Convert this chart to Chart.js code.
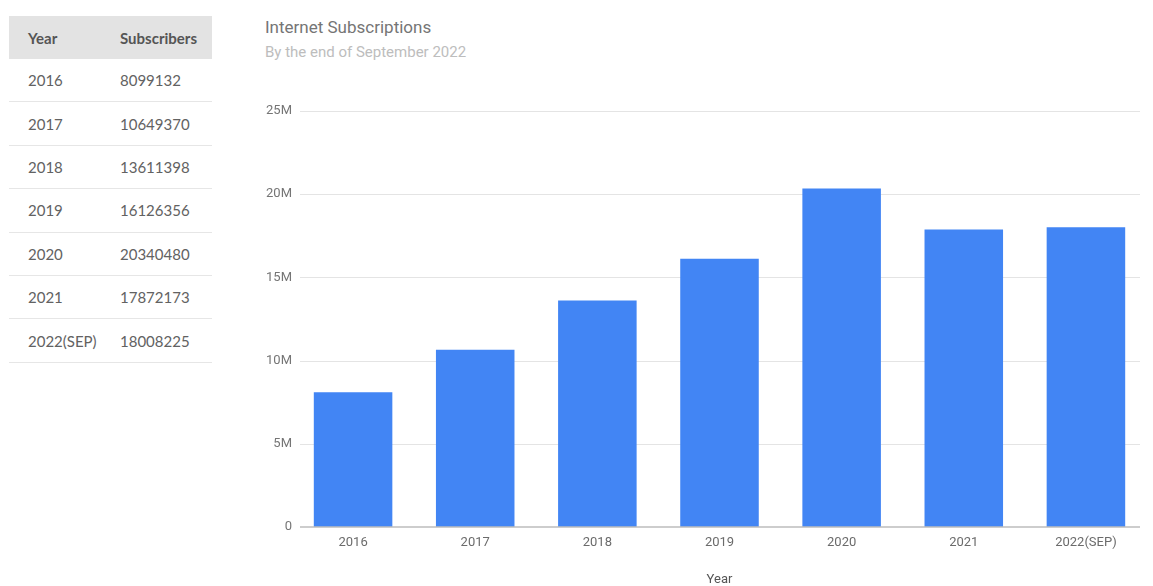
<!DOCTYPE html>
<html>
<head>
<meta charset="utf-8">
<script src="https://cdn.jsdelivr.net/npm/chart.js@4/dist/chart.umd.min.js"></script>
<style>
  body { margin: 0; background: #fff; width: 1153px; height: 586px; overflow: hidden; position: relative; }
  #tbl { position: absolute; left: 9px; top: 16px; width: 203px; border-collapse: collapse; font-family: Lato, "Open Sans", sans-serif; font-size: 15px; color: #626262; table-layout: fixed; }
  #tbl th { background: #e3e3e3; text-align: left; font-weight: bold; height: 43px; padding: 0 0 0 19px; color: #555; }
  #tbl td { height: 42.4px; padding: 0 0 0 19px; border-bottom: 1px solid #e6e6e6; }
  #tbl th:first-child { width: 73px; }
  .title { position: absolute; left: 265px; font-family: Roboto, sans-serif; white-space: nowrap; }
  #t1 { top: 17px; font-size: 17px; color: #757575; }
  #t2 { top: 43px; font-size: 15px; color: #bdbdbd; }
  #wrap { position: absolute; left: 230px; top: 0; width: 923px; height: 586px; }
</style>
</head>
<body>
<table id="tbl"><thead><tr><th>Year</th><th>Subscribers</th></tr></thead><tbody></tbody></table>
<div class="title" id="t1">Internet Subscriptions</div>
<div class="title" id="t2">By the end of September 2022</div>
<div id="wrap"><canvas id="myChart"></canvas></div>
<script>
var years = ['2016', '2017', '2018', '2019', '2020', '2021', '2022(SEP)'];
var subscribers = [8099132, 10649370, 13611398, 16126356, 20340480, 17872173, 18008225];
var yTickLabels = ['0', '5M', '10M', '15M', '20M', '25M'];

// table on the left
var tbody = document.querySelector('#tbl tbody');
years.forEach(function (y, i) {
    var tr = document.createElement('tr');
    tr.innerHTML = '<td>' + y + '</td><td>' + subscribers[i] + '</td>';
    tbody.appendChild(tr);
});

// grid lines start a bit right of the chart area, like the original
var gridLeft = 300 - 230, gridRight = 1140 - 230;
var gridLines = {
    id: 'gridLines',
    beforeDatasetsDraw: function (chart) {
        var y = chart.scales.y, c = chart.ctx;
        c.save();
        c.strokeStyle = '#e4e4e4';
        c.lineWidth = 1;
        y.ticks.forEach(function (t) {
            if (t.value === 0) return;
            var py = Math.round(y.getPixelForValue(t.value)) + 0.5;
            c.beginPath(); c.moveTo(gridLeft, py); c.lineTo(gridRight, py); c.stroke();
        });
        c.restore();
    },
    afterDatasetsDraw: function (chart) {
        var y = chart.scales.y, c = chart.ctx;
        var py = y.getPixelForValue(0);
        c.save();
        c.strokeStyle = '#bdbdbd';
        c.lineWidth = 1.5;
        c.beginPath(); c.moveTo(gridLeft, py); c.lineTo(gridRight, py); c.stroke();
        c.restore();
    }
};

var ctx = document.getElementById('myChart').getContext('2d');
var myChart = new Chart(ctx, {
    type: 'bar',
    data: {
        labels: years,
        datasets: [{
            label: 'Subscribers',
            data: subscribers,
            backgroundColor: '#4285f4',
            borderWidth: 0,
            categoryPercentage: 0.643,
            barPercentage: 1
        }]
    },
    options: {
        responsive: true,
        maintainAspectRatio: false,
        animation: false,
        layout: { padding: { top: 111, right: 6, left: 0, bottom: 0 } },
        plugins: {
            legend: { display: false },
            tooltip: { enabled: false }
        },
        scales: {
            x: {
                grid: { display: false, drawTicks: false },
                border: { display: false },
                ticks: {
                    color: '#6b6b6b',
                    padding: 8,
                    maxRotation: 0,
                    font: { family: 'Roboto', size: 13 }
                },
                title: {
                    display: true,
                    text: 'Year',
                    color: '#555',
                    padding: { top: 0, bottom: -2 },
                    font: { family: 'Roboto', size: 13, lineHeight: 1.2 }
                },
                afterFit: function (scale) { scale.height = 59; }
            },
            y: {
                min: 0,
                max: 25000000,
                grid: { display: false, drawTicks: false },
                border: { display: false },
                ticks: {
                    stepSize: 5000000,
                    padding: 0,
                    color: '#757575',
                    font: { family: 'Roboto', size: 13 },
                    callback: function (value, index) { return yTickLabels[index]; }
                },
                afterFit: function (scale) { scale.width = 62; }
            }
        }
    },
    plugins: [gridLines]
});
</script>
</body>
</html>
